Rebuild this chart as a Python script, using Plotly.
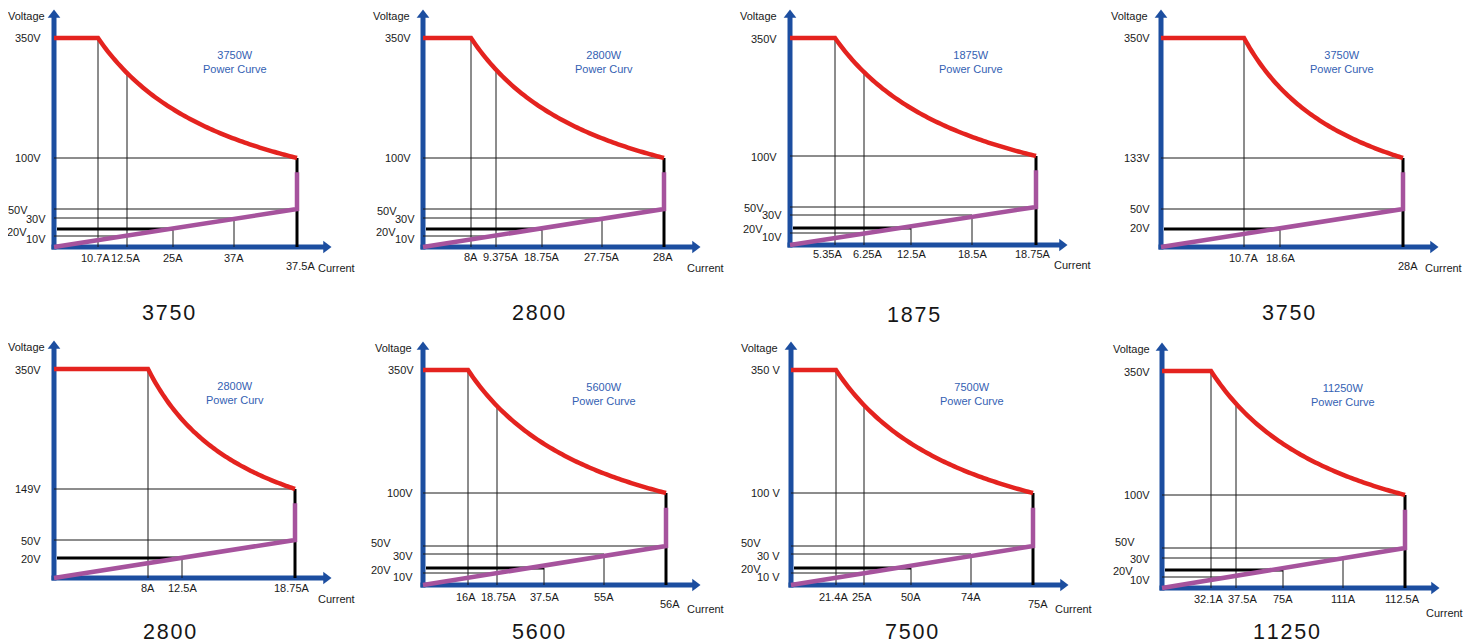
import plotly.graph_objects as go

SCREEN_W, SCREEN_H = 1472, 643
PAGE_MARGIN = 8                      # default <body> margin of the html page
W, H = SCREEN_W - PAGE_MARGIN, SCREEN_H - PAGE_MARGIN

# ---------------- data (values / labels) ----------------
TITLES = ["3750", "2800", "1875", "3750", "2800", "5600", "7500", "11250"]
POWER_TEXT = ["3750W", "2800W", "1875W", "3750W", "2800W", "5600W", "7500W", "11250W"]
CURVE_TEXT = ["Power Curve", "Power Curv", "Power Curve", "Power Curve",
              "Power Curv", "Power Curve", "Power Curve", "Power Curve"]

CURRENT_LABELS = [
    ["10.7A", "12.5A", "25A", "37A", "37.5A"],
    ["8A", "9.375A", "18.75A", "27.75A", "28A"],
    ["5.35A", "6.25A", "12.5A", "18.5A", "18.75A"],
    ["10.7A", "18.6A", "28A"],
    ["8A", "12.5A", "18.75A"],
    ["16A", "18.75A", "37.5A", "55A", "56A"],
    ["21.4A", "25A", "50A", "74A", "75A"],
    ["32.1A", "37.5A", "75A", "111A", "112.5A"],
]
VOLTAGE_LABELS = [
    ["350V", "100V", "50V", "30V", "20V", "10V"],
    ["350V", "100V", "50V", "30V", "20V", "10V"],
    ["350V", "100V", "50V", "30V", "20V", "10V"],
    ["350V", "133V", "50V", "20V"],
    ["350V", "149V", "50V", "20V"],
    ["350V", "100V", "50V", "30V", "20V", "10V"],
    ["350 V", "100 V", "50V", "30 V", "20V", "10 V"],
    ["350V", "100V", "50V", "30V", "20V", "10V"],
]

# ---------------- schematic layout (positions on each diagram) ----------------
ORIGIN = [(54, 247), (423, 247), (790, 245), (1161, 247),
          (54, 578), (423, 585), (791, 585), (1162, 588)]
CURRENT_X = [
    [44, 73, 119, 180, 243],
    [48, 73, 119, 179, 241],
    [45, 74, 121, 182, 246],
    [83, 119, 242],
    [94, 128, 241],
    [45, 74, 121, 181, 243],
    [45, 73, 120, 180, 242],
    [49, 74, 121, 181, 243],
]
CLABEL_X = [
    [41, 71, 119, 180, 246],
    [48, 78, 119, 179, 240],
    [37, 77, 121, 182, 243],
    [82, 119, 247],
    [94, 128, 238],
    [43, 76, 121, 181, 247],
    [42, 71, 120, 180, 247],
    [46, 80, 121, 181, 240],
]
CLABEL_Y = [-11, -10, -9, -11, -10, -12, -12, -11]
END_LABEL_DROP = [True, False, False, True, False, True, True, False]
CURRENT_WORD_Y = [-21, -21, -20, -21, -21, -24, -24, -25]
VOLTAGE_WORD_X = [-7, -11, -11, -11, -7, -9, -11, -10]
VOLTAGE_Y = [
    [209, 89, 38, 29, 18, 11],
    [209, 89, 38, 29, 18, 11],
    [207, 89, 38, 30, 17, 12],
    [209, 89, 38, 18],
    [209, 89, 38, 20],
    [215, 92, 39, 31, 17, 12],
    [215, 92, 39, 31, 17, 12],
    [217, 93, 40, 30, 18, 11],
]
VLABEL_DX = [
    [-11, -11, -24, -6, -25, -6],
    [-10, -10, -24, -6, -25, -6],
    [-11, -11, -24, -6, -25, -6],
    [-9, -9, -9, -9],
    [-11, -11, -11, -11],
    [-7, -8, -30, -8, -30, -8],
    [-9, -9, -28, -9, -28, -9],
    [-10, -10, -25, -10, -27, -10],
]
VLABEL_Y = [
    [209, 89, 37, 28, 15, 8],
    [209, 89, 36, 28, 15, 8],
    [206, 88, 37, 30, 16, 8],
    [209, 89, 38, 19],
    [208, 89, 37, 19],
    [215, 92, 42, 29, 15, 8],
    [215, 92, 42, 29, 16, 8],
    [216, 93, 46, 29, 17, 8],
]
TITLE_XY = [(168, 313), (538, 313), (913, 315), (1288, 313),
            (169, 632), (538, 632), (911, 632), (1286, 632)]

# ---------------- styles ----------------
BLUE = "#1c4ea0"
TXT_BLUE = "#3461b3"
RED = "#e4231f"
PURPLE = "#a6539d"
DARK = "#1a1a1a"
FONT = "Liberation Sans, Arial, sans-serif"
LSIZE = 11
CURVE_C = 0.708
HAIR = "\u200a"


def curve_s(t):
    c = CURVE_C
    return -c + c * (1 + c) / (t + c)


def fx(px):   # screen px -> paper x
    return (px - PAGE_MARGIN) / W


def fy(py):   # screen px -> paper y
    return 1 - (py - PAGE_MARGIN) / H


fig = go.Figure()
annotations = []
layout_axes = {}

for k in range(8):
    ox, oy = ORIGIN[k]
    sfx = "" if k == 0 else str(k + 1)
    xa, ya = "x" + sfx, "y" + sfx

    left_px, right_px = max(PAGE_MARGIN, ox - 52), min(SCREEN_W, ox + 315)
    top_px, bot_px = max(PAGE_MARGIN, oy - 255), min(SCREEN_H, oy + 65)
    layout_axes["xaxis" + sfx] = dict(domain=[fx(left_px), fx(right_px)],
                                      range=[left_px - ox, right_px - ox],
                                      visible=False, fixedrange=True, anchor=ya)
    layout_axes["yaxis" + sfx] = dict(domain=[fy(bot_px), fy(top_px)],
                                      range=[oy - bot_px, oy - top_px],
                                      visible=False, fixedrange=True, anchor=xa)

    def line(xs, ys, color, width):
        fig.add_trace(go.Scatter(x=xs, y=ys, mode="lines",
                                 line=dict(color=color, width=width, simplify=False),
                                 xaxis=xa, yaxis=ya, hoverinfo="skip",
                                 showlegend=False))

    cx = CURRENT_X[k]
    vy = VOLTAGE_Y[k]
    full = len(cx) == 5
    if full:
        knee, i2, i3, i4, iend = cx
        v350, vtop, v50, v30, v20, v10 = vy
    else:
        knee, i3, iend = cx
        v350, vtop, v50, v20 = vy

    def curve_y(x):
        t = (x - knee) / (iend - knee)
        return vtop + curve_s(t) * (v350 - vtop)

    # blue axes with arrowheads
    xtip_c = 272
    ytip_c = v350 + 23
    line([-2.5, xtip_c], [0, 0], BLUE, 5)
    line([0, 0], [-2.5, ytip_c], BLUE, 5)
    fig.add_trace(go.Scatter(x=[xtip_c], y=[0], mode="markers",
                             marker=dict(symbol="triangle-right", size=11, color=BLUE,
                                         line=dict(width=0)),
                             xaxis=xa, yaxis=ya, hoverinfo="skip", showlegend=False,
                             cliponaxis=False))
    fig.add_trace(go.Scatter(x=[0], y=[ytip_c], mode="markers",
                             marker=dict(symbol="triangle-up", size=11, color=BLUE,
                                         line=dict(width=0)),
                             xaxis=xa, yaxis=ya, hoverinfo="skip", showlegend=False,
                             cliponaxis=False))

    # thin guide lines
    line([0, iend], [vtop, vtop], DARK, 1)
    line([0, iend], [v50, v50], DARK, 1)
    line([knee, knee], [0, v350], DARK, 1)
    line([i3, i3], [0, v20], DARK, 1)
    if full:
        line([i2, i2], [0, curve_y(i2)], DARK, 1)
        line([0, i2], [v10, v10], DARK, 1)
        line([0, i4], [v30, v30], DARK, 1)
        line([i4, i4], [0, v30], DARK, 1)

    # thick black lines
    line([3, i3], [v20, v20], "#000000", 3)
    line([iend, iend], [0, vtop], "#000000", 3)

    # purple constant-resistance line
    ptop = v50 + 0.72 * (vtop - v50)
    line([0, iend, iend], [0, v50, ptop], PURPLE, 4.5)

    # red power curve
    n = 80
    xs = [0, knee] + [knee + (iend - knee) * j / n for j in range(1, n + 1)]
    ys = [v350, v350] + [curve_y(x) for x in xs[2:]]
    line(xs, ys, RED, 4.5)

    # voltage labels
    for lab, dx, ly in zip(VOLTAGE_LABELS[k], VLABEL_DX[k], VLABEL_Y[k]):
        annotations.append(dict(x=dx, y=ly, xref=xa, yref=ya, text=lab, showarrow=False,
                                xanchor="right", yanchor="middle",
                                font=dict(family=FONT, size=LSIZE, color=DARK)))
    # current labels
    n_lab = len(CURRENT_LABELS[k])
    for j, (lab, px) in enumerate(zip(CURRENT_LABELS[k], CLABEL_X[k])):
        last = j == n_lab - 1
        ly = -19 if (last and END_LABEL_DROP[k]) else CLABEL_Y[k]
        annotations.append(dict(x=px, y=ly, xref=xa, yref=ya, text=lab,
                                showarrow=False, xanchor="center", yanchor="middle",
                                font=dict(family=FONT, size=LSIZE, color=DARK)))
    annotations.append(dict(x=VOLTAGE_WORD_X[k], y=v350 + 22, xref=xa, yref=ya,
                            text="Voltage", showarrow=False, xanchor="right",
                            yanchor="middle",
                            font=dict(family=FONT, size=LSIZE, color=DARK)))
    annotations.append(dict(x=262, y=CURRENT_WORD_Y[k], xref=xa, yref=ya, text="Current",
                            showarrow=False, xanchor="left", yanchor="middle",
                            font=dict(family=FONT, size=LSIZE, color=DARK)))
    annotations.append(dict(x=181, y=v350 - 23.5, xref=xa, yref=ya,
                            text=POWER_TEXT[k] + "<br>" + CURVE_TEXT[k],
                            showarrow=False, xanchor="center", yanchor="middle",
                            font=dict(family=FONT, size=LSIZE, color=TXT_BLUE)))
    tx, ty = TITLE_XY[k]
    annotations.append(dict(x=fx(tx), y=fy(ty), xref="paper", yref="paper",
                            text=HAIR.join(TITLES[k]),
                            showarrow=False, xanchor="center", yanchor="middle",
                            font=dict(family=FONT, size=21.5, color="#161616")))

fig.update_layout(width=W, height=H, margin=dict(l=0, r=0, t=0, b=0),
                  paper_bgcolor="white", plot_bgcolor="rgba(0,0,0,0)",
                  showlegend=False, annotations=annotations, **layout_axes)

fig.write_html("out.html")
